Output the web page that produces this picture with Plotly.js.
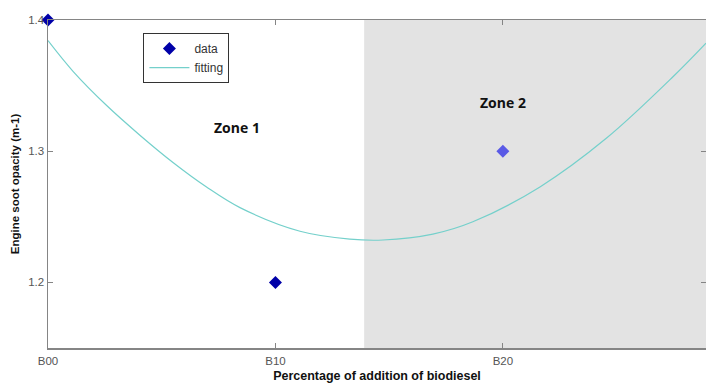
<!DOCTYPE html>
<html>
<head>
<meta charset="utf-8">
<script src="https://cdn.plot.ly/plotly-3.0.1.min.js"></script>
<style>html,body{margin:0;padding:0;background:#fff;}#chart{width:706px;height:383px;}</style>
</head>
<body>
<div id="chart"></div>
<script>
// Measured data points (x = % biodiesel)
const dataX = [0, 10, 20];
const dataY = [1.4, 1.2, 1.3];
const dataColors = ['#0000a8', '#0000a8', '#5a5ae6'];

// Fitted curve, values
const fitX = [0, 1.11, 2.58, 4.04, 5.51, 6.97, 8.44, 11.08, 13.27, 14.73, 16.92, 18.68, 21.63, 24.56, 27.49, 28.93];
const fitY = [1.3843, 1.3607, 1.3348, 1.3122, 1.2912, 1.2727, 1.2570, 1.2390, 1.2330, 1.2323, 1.2368, 1.2462, 1.2728, 1.3100, 1.3569, 1.3823];

// Tick labels
const tickVals = [0, 10, 20, 30];
const tickLabels = ['B00', 'B10', 'B20', 'B30'];

// Zone 2 starts here
const zoneStart = 13.9;

const traces = [
  {
    x: dataX, y: dataY, name: 'data', mode: 'markers', type: 'scatter',
    cliponaxis: false,
    marker: {symbol: 'diamond', size: 10, color: dataColors}
  },
  {
    x: fitX, y: fitY, name: 'fitting', mode: 'lines', type: 'scatter',
    line: {color: '#74d0cb', width: 1.2, shape: 'spline', smoothing: 1}
  }
];

const axisCommon = {
  showgrid: false, zeroline: false,
  showline: true, linecolor: '#858585', linewidth: 1.5,
  ticks: 'inside', ticklen: 5, tickcolor: '#858585',
  mirror: 'ticks',
  tickfont: {family: 'Liberation Sans, Arial, sans-serif', size: 11.5, color: '#555'}
};

const layout = {
  width: 706, height: 383,
  margin: {l: 48, r: 0, t: 20, b: 35},
  paper_bgcolor: '#fff', plot_bgcolor: '#fff',
  showlegend: true,
  legend: {
    x: 0.145, y: 0.96, xanchor: 'left', yanchor: 'top',
    bgcolor: '#fff', bordercolor: '#333', borderwidth: 1,
    font: {family: 'Liberation Sans, Arial, sans-serif', size: 12, color: '#333'},
    itemwidth: 40, tracegroupgap: 0
  },
  xaxis: Object.assign({}, axisCommon, {
    range: [0, 28.93],
    tickvals: tickVals, ticktext: tickLabels,
    ticklabelstandoff: 2,
    title: {text: 'Percentage of addition of biodiesel', standoff: 6,
      font: {family: 'Liberation Sans, Arial, sans-serif', size: 12.5, color: '#111', weight: 'bold'}}
  }),
  yaxis: Object.assign({}, axisCommon, {
    range: [1.15, 1.4],
    tickvals: [1.2, 1.3, 1.4], ticktext: ['1.2', '1.3', '1.4'],
    title: {text: 'Engine soot opacity (m-1)', standoff: 6,
      font: {family: 'Liberation Sans, Arial, sans-serif', size: 11.5, color: '#111', weight: 'bold'}}
  }),
  shapes: [{
    type: 'rect', xref: 'x', yref: 'paper',
    x0: zoneStart, x1: 30, y0: 0, y1: 1,
    fillcolor: '#e3e3e3', line: {width: 0}, layer: 'below'
  }],
  annotations: [
    {text: '<b>Zone 1</b>', x: 8.3, y: 1.318, xref: 'x', yref: 'y', showarrow: false,
     font: {family: 'Open Sans, sans-serif', size: 14, color: '#111'}},
    {text: '<b>Zone 2</b>', x: 20, y: 1.337, xref: 'x', yref: 'y', showarrow: false,
     font: {family: 'Open Sans, sans-serif', size: 14, color: '#111'}}
  ]
};

Plotly.newPlot('chart', traces, layout, {displayModeBar: false, staticPlot: true});
</script>
</body>
</html>
